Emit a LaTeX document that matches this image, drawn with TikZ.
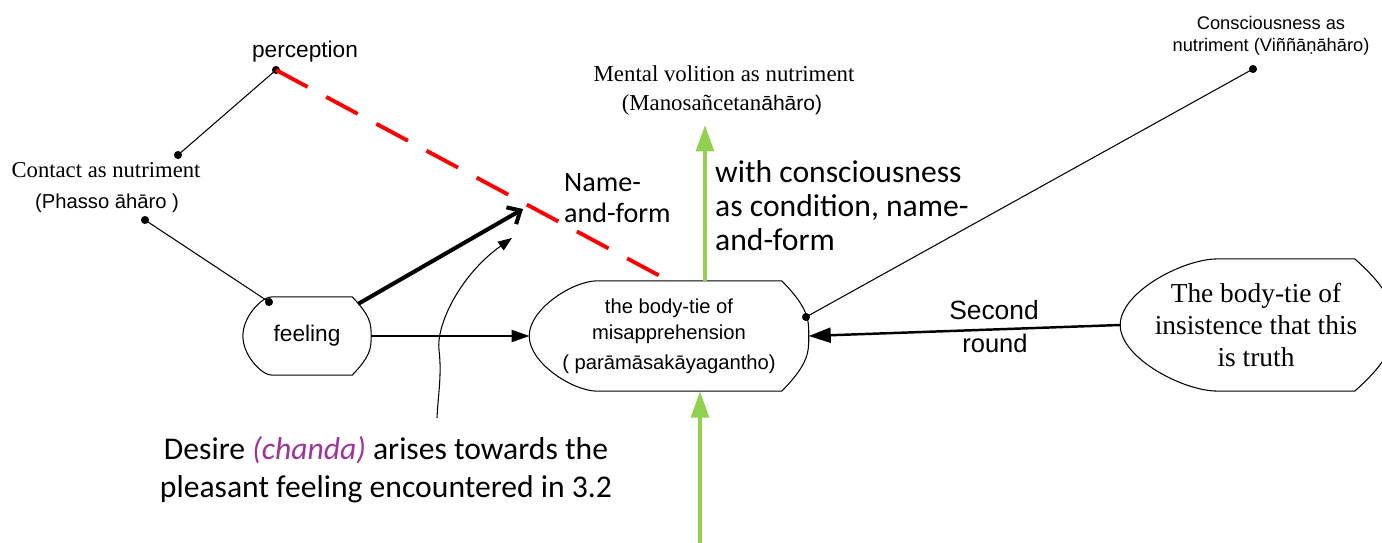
\documentclass[tikz,border=0pt]{standalone}
\usepackage{fontspec}
\setmainfont{Liberation Serif}
\setsansfont{Liberation Sans}
\newfontfamily\calibri{Carlito}
\usetikzlibrary{arrows.meta}
\usetikzlibrary{calc}
\definecolor{ChandaPurple}{RGB}{160,50,160}
\definecolor{LeafGreen}{RGB}{146,208,80}
\definecolor{DashRed}{RGB}{255,0,0}

% outline of a display shape round a node: #2 = inset of left corners, #3 = inset of right corners
\newcommand{\DispLine}[3]{%
  \draw[EdgeStyle] (#1.west)
    .. controls ($(#1.west)!0.5!(#1.north west)$) and ($([shift={(#2,0)}]#1.north west)!0.35!(#1.north west)$)
    .. ([shift={(#2,0)}]#1.north west) -- ([shift={(-#3,0)}]#1.north east)
    .. controls ($(#1.north east)!0.5!(#1.east)$) and ($(#1.east)!0.3!(#1.north east)$)
    .. (#1.east)
    .. controls ($(#1.east)!0.3!(#1.south east)$) and ($(#1.south east)!0.5!(#1.east)$)
    .. ([shift={(-#3,0)}]#1.south east) -- ([shift={(#2,0)}]#1.south west)
    .. controls ($([shift={(#2,0)}]#1.south west)!0.35!(#1.south west)$) and ($(#1.west)!0.5!(#1.south west)$)
    .. (#1.west);}

\begin{document}
\begin{tikzpicture}[x = 0.02cm, y = -0.02cm]
\tikzstyle{DotStyle}=[shape = circle, fill, inner sep = 0pt, minimum size = 4.6pt]
\tikzstyle{ShapeStyle}=[shape = rectangle, inner sep = 0pt, align = center]
\tikzstyle{EdgeStyle}=[line width = 0.6pt]
\clip (0,0) rectangle (1382,543);
% shapes
\node[ShapeStyle, minimum width = 72.6pt, minimum height = 44.2pt,
  font = \sffamily\fontsize{12.9}{15}\selectfont] (feel) at (307,336) {feeling};
\node[ShapeStyle, minimum width = 158.7pt, minimum height = 62.4pt,
  font = \sffamily\fontsize{11.5}{14.7}\selectfont] (tie) at (669,336)
  {the body-tie of\\misapprehension\\[2.3pt]( parāmāsakāyagantho)};
\node[ShapeStyle, minimum width = 154.2pt, minimum height = 74.8pt,
  font = \fontsize{15.6}{18.1}\selectfont] (truth) at (1256,325)
  {The body-tie of\\insistence that this\\is truth};
\DispLine{feel}{29}{19}
\DispLine{tie}{68}{27}
\DispLine{truth}{97}{37}
% dots
\node[DotStyle] (d0) at (276,70) {};
\node[DotStyle] (d1) at (178,155) {};
\node[DotStyle] (d2) at (145,220) {};
\node[DotStyle] (d3) at (269,302) {};
\node[DotStyle] (d4) at (806,317) {};
\node[DotStyle] (d5) at (1253,69) {};
\coordinate (c0) at (358,304);
\coordinate (c1) at (523,209);
\coordinate (c2) at (705,125);
\coordinate (c3) at (700,543);
\coordinate (c4) at (437,418);
\coordinate (c5) at (512,238);
% labels
\node[font = \sffamily\fontsize{12.9}{15}\selectfont] (perc) at (305,52) {perception};
\node[font = \fontsize{12.9}{15}\selectfont] (cont) at (106,170) {Contact as nutriment};
\node[font = \sffamily\fontsize{11.5}{14}\selectfont] (phas) at (107,203) {(Phasso āhāro )};
\node[font = \fontsize{13}{15}\selectfont] (mvol) at (724,74) {Mental volition as nutriment};
\node[font = \fontsize{13}{15}\selectfont] (mano) at (722,105) {(Manosañcetan{\sffamily\fontsize{12}{15}\selectfont āhāro)}};
\node[anchor = west, align = left, font = \calibri\fontsize{16}{17.5}\selectfont] (nf) at (558,198) {Name-\\and-form};
\node[anchor = west, align = left, font = \calibri\fontsize{18}{19.3}\selectfont] (wc) at (709,206)
  {with consciousness\\as condition, name-\\and-form};
\node[align = center, font = \sffamily\fontsize{10.4}{12.5}\selectfont] (cons) at (1271,36)
  {Consciousness as\\nutriment (Viññāṇāhāro)};
\node[font = \sffamily\fontsize{15}{17}\selectfont] (sec) at (994,310) {Second};
\node[font = \sffamily\fontsize{14.5}{17}\selectfont] (rnd) at (995,343) {round};
\node[align = center, font = \calibri\fontsize{18}{21.5}\selectfont] (des) at (386,470)
  {Desire {\itshape\color{ChandaPurple}(chanda)} arises towards the\\pleasant feeling encountered in 3.2};
% connectors
\draw[EdgeStyle] (d1.center) -- (d0.center);
\draw[EdgeStyle] (d2.center) -- (d3.center);
\draw[EdgeStyle] (d4.center) -- (d5.center);
\draw[DashRed, line width = 2.2pt, dash pattern = on 20.4pt off 12pt] (d0.center) -- (tie.north);
\draw[EdgeStyle, -{Triangle[length = 10pt, width = 7pt]}] (feel.east) -- (tie.west);
\draw[line width = 2.3pt, line join = round, -{Straight Barb[length = 6pt, width = 11pt]}] (c0) -- (c1);
\draw[EdgeStyle, -{Triangle[length = 8pt, width = 6pt]}] (c4) .. controls (438,395) and (442,375) .. (439,350)
  .. controls (436,325) and (460,275) .. (c5);
\draw[LeafGreen, line width = 2.2pt, -{Triangle[length = 15pt, width = 10pt]}] (c2 |- tie.north) -- (c2);
\draw[LeafGreen, line width = 2.2pt, -{Triangle[length = 15pt, width = 10pt]}] (c3) -- (c3 |- tie.south);
\draw[line width = 1.4pt, -{Triangle[length = 12.5pt, width = 8.5pt]}] (truth.west) -- (tie.east);
\end{tikzpicture}
\end{document}
